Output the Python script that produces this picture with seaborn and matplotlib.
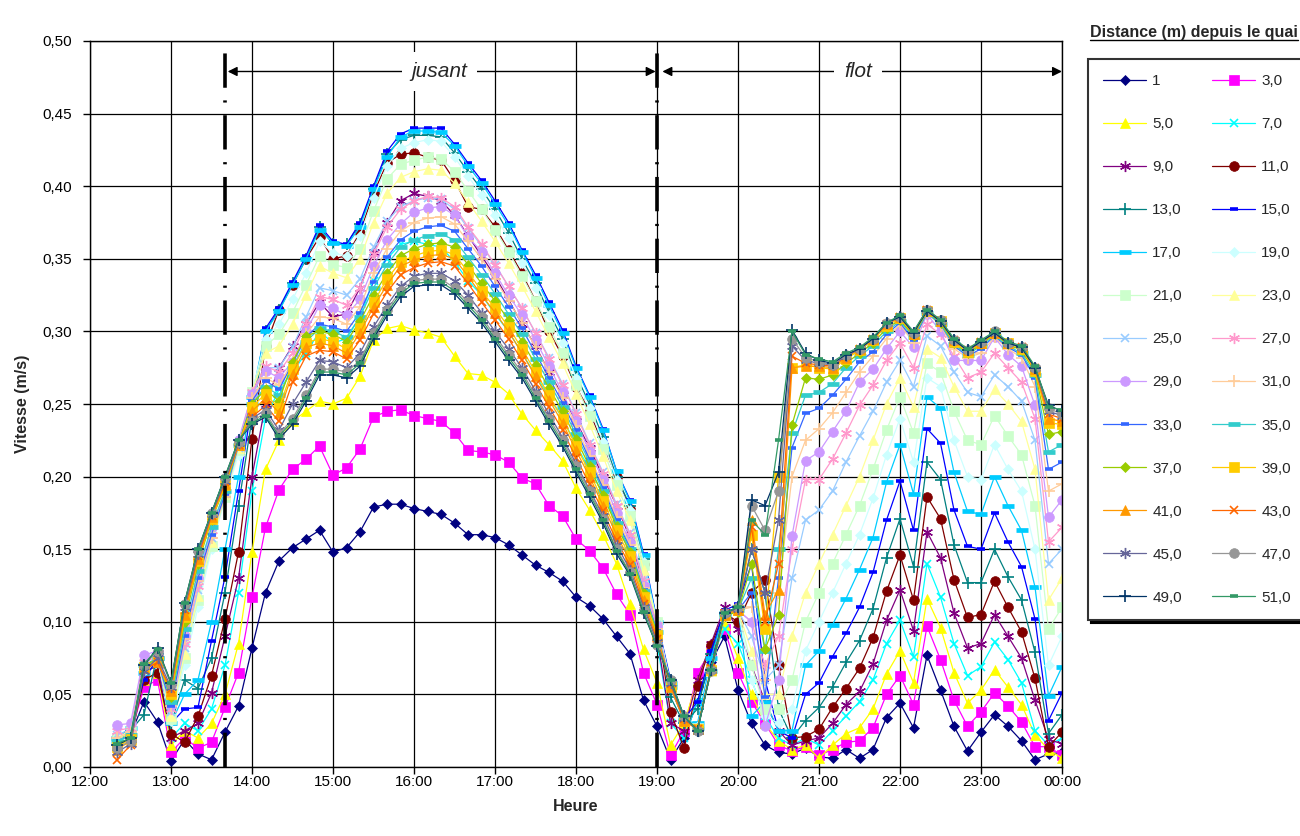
import pandas as pd
import matplotlib
matplotlib.use("Agg")
import matplotlib.pyplot as plt
import matplotlib.dates as mdates
from matplotlib.lines import Line2D
from matplotlib.ticker import FuncFormatter
import seaborn as sns

# measures every 10 minutes, 12:20 -> midnight
times = pd.date_range("2000-01-01 12:20", "2000-01-02 00:00", freq="10min")

labels = ["1", "3,0", "5,0", "7,0", "9,0", "11,0", "13,0", "15,0", "17,0", "19,0",
          "21,0", "23,0", "25,0", "27,0", "29,0", "31,0", "33,0", "35,0", "37,0",
          "39,0", "41,0", "43,0", "45,0", "47,0", "49,0", "51,0"]

v1 = [.018, .022, .045, .031, .004, .019, .009, .005, .024, .042,
      .082, .120, .142, .151, .157, .163, .148, .151, .162, .179,
      .181, .181, .178, .176, .174, .168, .160, .160, .158, .153,
      .146, .139, .134, .128, .117, .111, .102, .090, .078, .046,
      .028, .005, .020, .045, .072, .090, .053, .030, .015, .010,
      .009, .013, .007, .006, .012, .006, .012, .034, .044, .027,
      .077, .053, .028, .011, .024, .036, .028, .018, .005, .009, .010]
v3 = [.020, .022, .055, .060, .010, .020, .013, .017, .041, .065,
      .117, .165, .191, .205, .212, .221, .201, .206, .219, .241,
      .245, .246, .242, .240, .238, .230, .218, .217, .215, .210,
      .199, .195, .180, .173, .157, .149, .137, .119, .105, .065,
      .043, .008, .025, .065, .080, .095, .065, .045, .030, .015,
      .011, .014, .008, .012, .017, .018, .027, .050, .063, .043,
      .097, .074, .046, .028, .038, .051, .042, .031, .014, .014, .008]
v5 = [.020, .022, .060, .065, .015, .025, .020, .030, .050, .085,
      .148, .205, .225, .238, .245, .252, .250, .254, .269, .294,
      .302, .304, .301, .299, .296, .283, .271, .270, .265, .257,
      .243, .232, .222, .211, .192, .177, .160, .140, .112, .081,
      .058, .015, .030, .060, .085, .098, .075, .050, .030, .018,
      .012, .015, .006, .015, .023, .027, .040, .064, .080, .058,
      .116, .096, .065, .044, .053, .067, .055, .043, .022, .012, .006]
v7 = [.020, .025, .065, .070, .020, .030, .025, .040, .070, .120,
      .190, .240, .260, .272, .285, .300, .292, .295, .310, .335,
      .350, .360, .362, .360, .358, .348, .335, .325, .312, .300,
      .285, .270, .255, .240, .222, .205, .188, .168, .148, .115,
      .085, .030, .020, .045, .075, .095, .085, .060, .035, .020,
      .015, .020, .015, .025, .035, .045, .060, .085, .101, .076,
      .140, .117, .085, .063, .069, .086, .074, .058, .025, .015, .020]
v9 = [.020, .025, .065, .070, .020, .025, .030, .051, .090, .130,
      .200, .250, .275, .290, .305, .320, .310, .312, .330, .355,
      .375, .390, .395, .393, .390, .380, .366, .352, .338, .322,
      .305, .290, .272, .256, .238, .220, .200, .180, .158, .125,
      .090, .030, .025, .060, .085, .110, .095, .070, .045, .025,
      .015, .018, .020, .030, .043, .052, .071, .101, .122, .094,
      .162, .144, .106, .082, .085, .105, .090, .075, .046, .019, .016]
v11 = [.015, .020, .060, .065, .023, .017, .035, .063, .102, .148,
       .226, .290, .315, .332, .350, .365, .350, .352, .368, .395,
       .416, .422, .423, .420, .418, .404, .386, .384, .372, .356,
       .340, .321, .300, .283, .262, .245, .222, .200, .178, .140,
       .100, .038, .013, .056, .084, .106, .100, .120, .129, .070,
       .020, .021, .026, .041, .054, .068, .089, .121, .146, .115,
       .186, .171, .129, .103, .105, .128, .110, .093, .061, .014, .024]
v13 = [.020, .025, .036, .078, .030, .060, .054, .075, .120, .180,
       .240, .300, .315, .333, .350, .372, .360, .360, .374, .398,
       .422, .432, .435, .435, .434, .423, .410, .398, .384, .368,
       .350, .333, .313, .295, .270, .250, .227, .200, .180, .143,
       .098, .048, .030, .040, .078, .105, .108, .150, .120, .040,
       .020, .032, .041, .055, .072, .087, .109, .144, .171, .138,
       .210, .198, .153, .127, .127, .150, .131, .115, .079, .023, .036]
v15 = [.020, .027, .060, .075, .030, .040, .041, .087, .131, .190,
       .250, .302, .316, .334, .352, .373, .362, .360, .375, .400,
       .424, .436, .440, .440, .440, .429, .416, .404, .390, .375,
       .356, .339, .320, .301, .276, .256, .233, .204, .184, .147,
       .101, .060, .033, .045, .080, .108, .112, .140, .060, .025,
       .020, .050, .058, .076, .092, .110, .134, .170, .197, .163,
       .233, .223, .177, .152, .150, .175, .155, .138, .102, .032, .051]
v17 = [.020, .027, .065, .075, .030, .050, .060, .100, .150, .200,
       .255, .300, .314, .332, .350, .370, .361, .359, .372, .398,
       .420, .434, .438, .438, .437, .428, .414, .402, .388, .373,
       .355, .337, .318, .299, .275, .255, .232, .204, .183, .146,
       .100, .058, .032, .030, .075, .106, .110, .035, .045, .025,
       .025, .070, .080, .098, .116, .136, .158, .196, .222, .188,
       .255, .247, .203, .176, .174, .200, .180, .163, .124, .049, .069]
v19 = [.020, .025, .066, .074, .032, .070, .110, .150, .185, .215,
       .258, .295, .305, .322, .340, .362, .354, .352, .366, .392,
       .414, .426, .430, .432, .431, .420, .407, .394, .380, .364,
       .347, .330, .311, .292, .268, .247, .224, .198, .177, .141,
       .100, .057, .032, .028, .066, .104, .108, .060, .035, .030,
       .040, .080, .100, .120, .140, .160, .185, .215, .240, .210,
       .268, .262, .225, .200, .198, .222, .205, .190, .150, .070, .090]
v21 = [.020, .025, .068, .074, .033, .075, .115, .152, .186, .218,
       .258, .290, .298, .313, .332, .352, .346, .344, .357, .383,
       .405, .415, .418, .420, .419, .410, .397, .384, .370, .355,
       .338, .321, .303, .285, .263, .242, .219, .194, .173, .139,
       .100, .056, .032, .027, .066, .104, .108, .070, .040, .040,
       .060, .100, .120, .140, .160, .180, .205, .232, .255, .230,
       .278, .272, .245, .225, .222, .242, .228, .215, .180, .095, .110]
v23 = [.020, .025, .068, .074, .035, .078, .118, .155, .188, .220,
       .258, .285, .290, .305, .325, .345, .340, .337, .350, .375,
       .395, .406, .410, .412, .411, .402, .389, .376, .362, .347,
       .331, .314, .296, .278, .257, .236, .214, .190, .170, .136,
       .099, .056, .032, .027, .066, .104, .108, .080, .050, .050,
       .090, .120, .140, .160, .180, .200, .225, .250, .268, .248,
       .288, .282, .262, .245, .245, .260, .250, .238, .205, .115, .130]
v25 = [.022, .026, .070, .075, .038, .082, .122, .158, .188, .220,
       .256, .275, .275, .289, .310, .330, .328, .325, .336, .358,
       .376, .386, .390, .392, .391, .384, .371, .359, .346, .331,
       .316, .299, .282, .264, .244, .223, .203, .181, .161, .129,
       .098, .055, .032, .027, .066, .104, .108, .090, .060, .070,
       .130, .170, .177, .190, .210, .228, .245, .265, .280, .262,
       .297, .290, .272, .258, .255, .270, .262, .252, .225, .140, .150]
v27 = [.025, .027, .072, .076, .040, .085, .125, .160, .188, .222,
       .258, .276, .272, .285, .305, .324, .322, .318, .330, .353,
       .372, .384, .390, .393, .392, .386, .372, .360, .346, .331,
       .316, .299, .281, .263, .243, .222, .202, .180, .160, .128,
       .098, .055, .032, .027, .066, .104, .108, .100, .070, .090,
       .150, .198, .198, .212, .230, .249, .263, .280, .292, .275,
       .305, .298, .283, .268, .272, .285, .275, .265, .240, .155, .165]
v29 = [.029, .030, .077, .080, .043, .090, .130, .165, .190, .225,
       .257, .273, .268, .279, .300, .318, .316, .311, .322, .345,
       .363, .374, .382, .385, .386, .380, .365, .355, .340, .325,
       .311, .294, .276, .258, .238, .217, .198, .175, .155, .125,
       .097, .055, .032, .027, .066, .104, .108, .100, .028, .060,
       .159, .211, .217, .231, .245, .265, .274, .288, .300, .289,
       .312, .300, .280, .280, .280, .296, .284, .276, .249, .172, .184]
v31 = [.020, .024, .070, .075, .042, .088, .128, .158, .186, .222,
       .254, .268, .263, .279, .298, .310, .309, .305, .317, .340,
       .357, .369, .375, .378, .379, .374, .362, .350, .336, .321,
       .306, .289, .272, .254, .235, .214, .194, .172, .153, .123,
       .095, .055, .032, .026, .066, .104, .108, .110, .060, .120,
       .200, .225, .233, .244, .258, .272, .283, .295, .305, .292,
       .313, .304, .288, .282, .285, .296, .288, .282, .262, .190, .195]
v33 = [.018, .022, .068, .074, .042, .090, .130, .160, .188, .222,
       .252, .266, .260, .278, .296, .305, .303, .300, .313, .334,
       .351, .363, .369, .372, .373, .369, .357, .345, .331, .317,
       .302, .285, .268, .251, .232, .212, .192, .170, .151, .122,
       .094, .055, .032, .027, .066, .104, .108, .120, .048, .130,
       .220, .2435, .247, .256, .267, .279, .286, .298, .306, .294,
       .313, .305, .290, .283, .288, .297, .289, .284, .268, .205, .210]
v35 = [.018, .022, .070, .075, .045, .095, .135, .165, .190, .222,
       .250, .262, .256, .275, .293, .302, .300, .296, .310, .330,
       .346, .358, .363, .366, .367, .363, .351, .339, .326, .312,
       .298, .281, .265, .248, .229, .210, .190, .168, .150, .121,
       .093, .055, .033, .027, .066, .104, .108, .130, .080, .150,
       .230, .256, .258, .264, .275, .283, .290, .300, .307, .296,
       .313, .305, .291, .284, .290, .297, .290, .285, .270, .217, .222]
v37 = [.015, .020, .070, .074, .048, .100, .140, .170, .193, .222,
       .250, .260, .252, .279, .297, .300, .298, .293, .307, .325,
       .340, .352, .357, .360, .361, .358, .346, .333, .321, .308,
       .293, .277, .261, .245, .226, .207, .187, .166, .148, .120,
       .092, .056, .033, .027, .066, .104, .107, .140, .081, .105,
       .2355, .268, .267, .270, .278, .285, .292, .302, .308, .297,
       .314, .306, .292, .285, .291, .298, .291, .287, .272, .229, .231]
v39 = [.014, .019, .069, .073, .050, .103, .142, .171, .194, .222,
       .248, .257, .247, .274, .292, .295, .293, .288, .302, .320,
       .336, .348, .352, .355, .356, .353, .341, .328, .316, .303,
       .288, .272, .256, .240, .221, .203, .183, .163, .145, .117,
       .091, .056, .032, .026, .067, .105, .108, .160, .095, .200,
       .275, .277, .275, .274, .281, .287, .294, .304, .309, .298,
       .314, .307, .293, .286, .292, .299, .292, .288, .273, .237, .236]
v41 = [.012, .018, .068, .072, .052, .105, .143, .172, .195, .222,
       .245, .254, .244, .271, .289, .292, .290, .285, .299, .317,
       .332, .345, .349, .352, .353, .350, .338, .325, .313, .300,
       .285, .269, .253, .237, .218, .200, .180, .160, .142, .115,
       .090, .055, .032, .026, .068, .105, .108, .170, .105, .122,
       .275, .276, .276, .275, .282, .288, .295, .305, .310, .298,
       .315, .307, .294, .287, .292, .299, .292, .289, .274, .240, .238]
v43 = [.005, .015, .067, .072, .054, .108, .145, .173, .196, .222,
       .241, .249, .238, .265, .283, .287, .286, .281, .294, .312,
       .327, .339, .344, .347, .348, .345, .333, .320, .308, .295,
       .280, .264, .248, .232, .213, .195, .176, .156, .139, .112,
       .088, .057, .033, .026, .068, .106, .109, .165, .100, .140,
       .283, .278, .277, .276, .283, .288, .295, .305, .310, .299,
       .315, .307, .294, .287, .293, .299, .292, .289, .275, .243, .240]
v45 = [.010, .016, .066, .075, .055, .110, .147, .174, .197, .223,
       .240, .246, .232, .250, .265, .280, .279, .275, .285, .303,
       .318, .331, .338, .340, .340, .335, .325, .313, .300, .288,
       .275, .259, .243, .227, .209, .191, .173, .153, .136, .110,
       .086, .058, .034, .025, .067, .106, .109, .150, .120, .170,
       .290, .280, .278, .277, .283, .288, .295, .306, .310, .299,
       .315, .307, .294, .287, .293, .299, .292, .289, .275, .245, .242]
v47 = [.013, .018, .070, .080, .057, .112, .149, .175, .199, .224,
       .238, .244, .229, .240, .256, .274, .274, .272, .280, .299,
       .315, .328, .335, .336, .336, .330, .320, .310, .297, .284,
       .272, .256, .240, .225, .207, .190, .171, .150, .134, .108,
       .084, .060, .035, .025, .067, .106, .110, .180, .163, .190,
       .295, .282, .279, .277, .284, .288, .295, .306, .310, .299,
       .315, .308, .294, .287, .293, .300, .292, .289, .275, .247, .243]
v49 = [.015, .020, .070, .082, .058, .113, .150, .175, .200, .225,
       .236, .241, .226, .236, .252, .270, .270, .268, .276, .295,
       .311, .324, .331, .332, .332, .326, .316, .306, .293, .280,
       .268, .252, .236, .221, .203, .186, .168, .147, .132, .106,
       .083, .060, .035, .025, .067, .106, .110, .184, .180, .203,
       .301, .285, .280, .278, .284, .288, .295, .306, .310, .299,
       .314, .307, .294, .287, .293, .299, .292, .289, .275, .249, .245]
v51 = [.016, .020, .071, .081, .058, .113, .150, .175, .200, .225,
       .237, .242, .228, .238, .254, .272, .272, .270, .278, .297,
       .313, .326, .333, .334, .334, .328, .318, .308, .295, .282,
       .270, .254, .238, .223, .205, .188, .170, .149, .133, .107,
       .083, .060, .035, .025, .067, .106, .110, .170, .160, .225,
       .300, .284, .281, .279, .285, .289, .296, .306, .311, .300,
       .315, .308, .295, .288, .294, .300, .293, .290, .276, .248, .246]

series = [v1, v3, v5, v7, v9, v11, v13, v15, v17, v19, v21, v23, v25, v27,
          v29, v31, v33, v35, v37, v39, v41, v43, v45, v47, v49, v51]

# Excel 2003 default series colours
colors = ["#000080", "#FF00FF", "#FFFF00", "#00FFFF", "#800080", "#800000", "#008080",
          "#0000FF", "#00CCFF", "#CCFFFF", "#CCFFCC", "#FFFF99", "#99CCFF", "#FF99CC",
          "#CC99FF", "#FFCC99", "#3366FF", "#33CCCC", "#99CC00", "#FFCC00", "#FF9900",
          "#FF6600", "#666699", "#969696", "#003366", "#339966"]

# marker cycle: diamond, square, triangle, x, star, circle, plus, short dash, long dash
marker_cycle = [("D", 5, 0.5), ("s", 6.5, 0.5), ("^", 7, 0.5), ("x", 6, 1.2),
                ((6, 2, 0), 8, 1.0), ("o", 7, 0.5), ("+", 8, 1.2),
                ("_", 6, 2.6), ("_", 8, 3.4)]

sns.set_theme(style="white")
plt.rcParams['font.family'] = ['Liberation Sans', 'DejaVu Sans']

fig = plt.figure(figsize=(13, 8.36), dpi=100)
ax = fig.add_axes([90 / 1300, 1 - 767 / 836, (1062 - 90) / 1300, (767 - 41) / 836])

handles = []
for k, (lab, vals, col) in enumerate(zip(labels, series, colors)):
    mk, ms, mew = marker_cycle[k % 9]
    sns.lineplot(x=times, y=vals, ax=ax, color=col, marker=mk, markersize=ms,
                 markerfacecolor=col, markeredgecolor=col, markeredgewidth=mew,
                 linewidth=0.9, estimator=None, errorbar=None, legend=False)
    handles.append(Line2D([], [], color=col, marker=mk, markersize=ms,
                          markerfacecolor=col, markeredgecolor=col,
                          markeredgewidth=mew, linewidth=0.9))

t0 = pd.Timestamp("2000-01-01 12:00")
t_end = pd.Timestamp("2000-01-02 00:00")
t_jus = pd.Timestamp("2000-01-01 13:40")
t_flo = pd.Timestamp("2000-01-01 19:00")

ax.set_xlim(t0, t_end)
ax.set_ylim(0, 0.5)
ax.set_yticks([i * 0.05 for i in range(11)])
ax.yaxis.set_major_formatter(FuncFormatter(lambda v, p: f"{v:.2f}".replace(".", ",")))
ax.xaxis.set_major_locator(mdates.HourLocator(interval=1))
ax.xaxis.set_major_formatter(mdates.DateFormatter("%H:%M"))

ax.grid(True, color="black", linewidth=0.9)
ax.set_axisbelow(True)
for sp in ax.spines.values():
    sp.set_color("black")
    sp.set_linewidth(1.0)
ax.tick_params(axis="both", which="major", bottom=True, left=True, direction="out",
               length=5, width=1, color="black", labelsize=11, labelcolor="black")
ax.tick_params(axis="y", pad=8)
ax.tick_params(axis="x", pad=1)

ax.set_xlabel("Heure", fontsize=11.5, fontweight="bold", labelpad=7)
ax.set_ylabel("Vitesse (m/s)", fontsize=11.5, fontweight="bold", labelpad=9)

# tide change markers
for t in (t_jus, t_flo):
    ax.axvline(t, color="black", linewidth=2.6, linestyle=(0, (9.5, 3.5, 0.6, 3.5)), zorder=5)

y_arr = 0.479
arrow = dict(arrowstyle="<|-|>", color="black", lw=1, mutation_scale=14, shrinkA=0, shrinkB=0)
ax.annotate("", xy=(mdates.date2num(t_jus + pd.Timedelta(minutes=2)), y_arr),
            xytext=(mdates.date2num(t_flo - pd.Timedelta(minutes=1)), y_arr),
            arrowprops=arrow, zorder=6)
ax.annotate("", xy=(mdates.date2num(t_flo + pd.Timedelta(minutes=4)), y_arr),
            xytext=(mdates.date2num(t_end), y_arr), arrowprops=arrow, zorder=6)
ax.text(mdates.date2num(pd.Timestamp("2000-01-01 16:19")), y_arr, "jusant",
        style="italic", fontsize=15, ha="center", va="center", zorder=7,
        bbox=dict(facecolor="white", edgecolor="none", pad=7))
ax.text(mdates.date2num(pd.Timestamp("2000-01-01 21:29")), y_arr, "flot",
        style="italic", fontsize=15, ha="center", va="center", zorder=7,
        bbox=dict(facecolor="white", edgecolor="none", pad=7))

# legend, filled row by row like Excel
order = list(range(0, 26, 2)) + list(range(1, 26, 2))
leg = fig.legend([handles[i] for i in order], [labels[i] for i in order],
                 loc="upper left", bbox_to_anchor=(1088 / 1300, 1 - 59 / 836),
                 ncol=2, frameon=True, fancybox=False,
                 shadow={"color": "black", "alpha": 1.0},
                 edgecolor="#333333", fontsize=11, handlelength=2.8,
                 handletextpad=0.4, columnspacing=2.0, labelspacing=1.9,
                 borderpad=1.0, borderaxespad=0)
leg.get_frame().set_linewidth(1.5)
leg.get_frame().set_alpha(1)

title = fig.text(1298 / 1300, 1 - 33 / 836, "Distance (m) depuis le quai",
                 ha="right", va="center", fontsize=11.5, fontweight="bold")
fig.canvas.draw()
bb = title.get_window_extent()
fig.add_artist(Line2D([bb.x0 / 1300, bb.x1 / 1300], [(bb.y0 + 1) / 836] * 2,
                      transform=fig.transFigure, color="black", linewidth=1))

fig.savefig("out.png", dpi=100, facecolor="white")
